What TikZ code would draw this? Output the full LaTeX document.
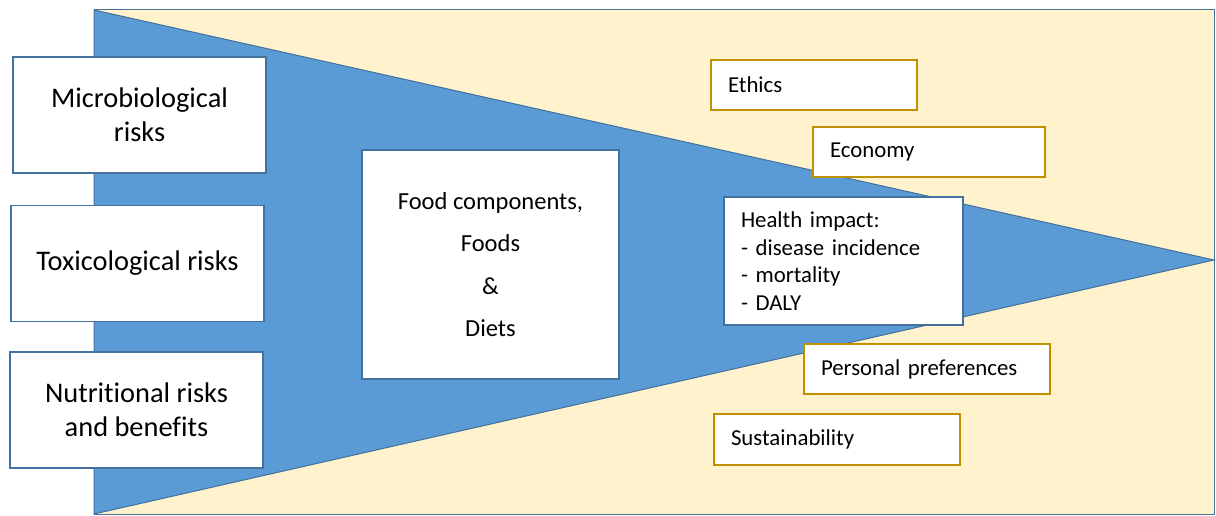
\documentclass[tikz,border=0pt]{standalone}
\usepackage{fontspec}
\setmainfont{Carlito}[Ligatures=NoCommon]
\definecolor{cream}{HTML}{FFF2CC}
\definecolor{wedgeblue}{HTML}{5B9BD5}
\definecolor{edgeblue}{HTML}{41719C}
\definecolor{gold}{HTML}{BF9000}
\begin{document}
\begin{tikzpicture}[x=1pt,y=-1pt]
	\tikzset{riskbox/.style = {shape=rectangle,draw=edgeblue,fill=white,line width=1.5pt,align=center,minimum width=253pt,minimum height=116pt,font=\fontsize{28.4}{34}\selectfont}}
	\tikzset{factor/.style = {shape=rectangle,draw=gold,fill=white,line width=1.8pt,align=left,inner xsep=17pt,minimum height=50pt,font=\fontsize{22.8}{27.5}\selectfont}}
	\useasboundingbox (0,0) rectangle (1216,516);
	\path[draw=edgeblue,fill=cream,line width=1pt] (94,10) rectangle (1214,514);
	\path[draw=edgeblue,fill=wedgeblue,line width=1pt] (94,10) -- (1214,260) -- (94,514) -- cycle;
	\node[riskbox] (micro) at (139.5,115) {Microbiological\\risks};
	\node[riskbox] (toxic) at (137.5,263.5) {Toxicological risks};
	\node[riskbox] (nutri) at (136.5,410) {Nutritional risks\\and benefits};
	\node[riskbox,minimum width=257pt,minimum height=229pt,font=\fontsize{24.5}{42.5}\selectfont] (food) at (490.5,264.5) {\raisebox{3pt}{\parbox{240pt}{\centering Food components,\\Foods\\\&\\Diets}}};
	\node[factor,draw=edgeblue,text width=205pt,minimum height=128pt] (health) at (843.5,261) {Health impact:\\- disease incidence\\- mortality\\- DALY};
	\node[factor,text width=172pt] (ethics) at (814,85) {Ethics};
	\node[factor,text width=198pt] (economy) at (929,152) {Economy};
	\node[factor,text width=212pt] (personal) at (927,369) {Personal preferences};
	\node[factor,text width=212pt,minimum height=51pt] (sustain) at (837,439.5) {Sustainability};
\end{tikzpicture}
\end{document}
